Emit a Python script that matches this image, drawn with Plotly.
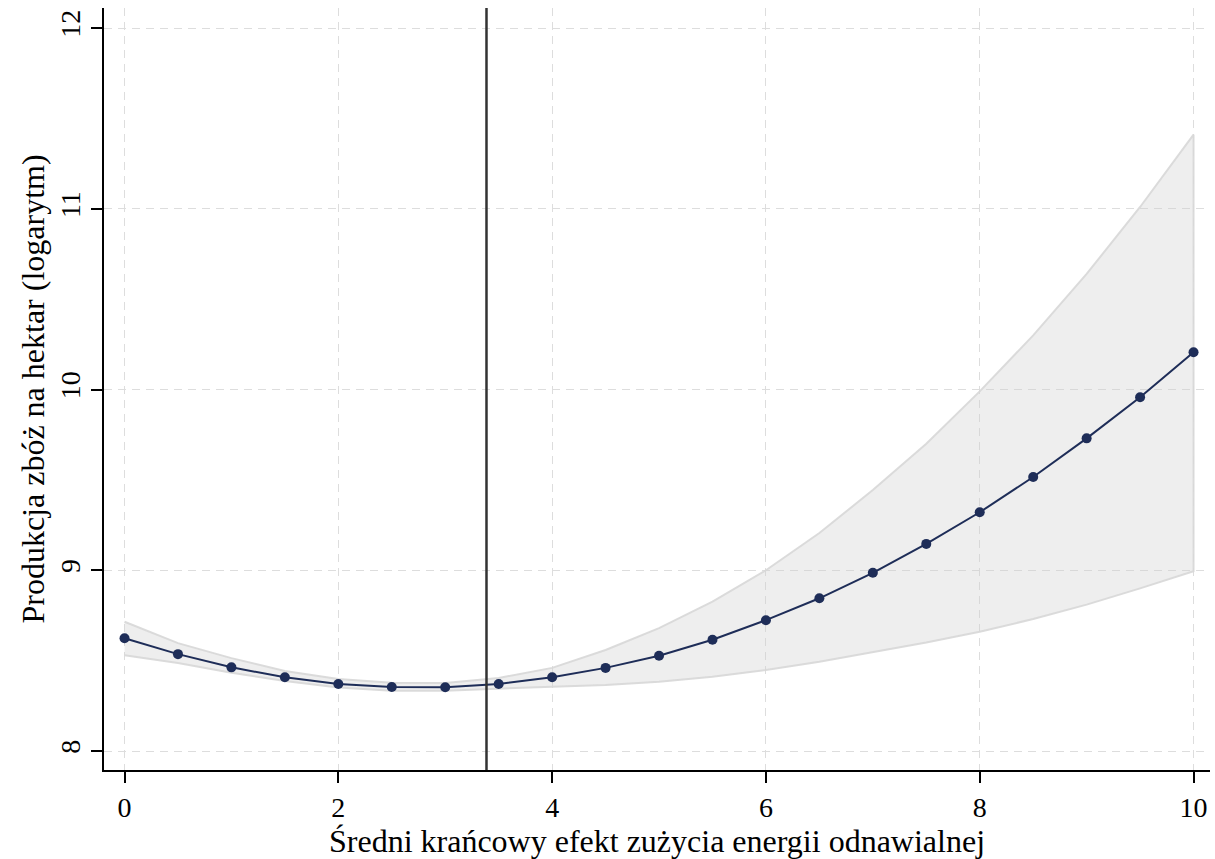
import plotly.graph_objects as go

x_vals = [0, 0.5, 1, 1.5, 2, 2.5, 3, 3.5, 4, 4.5, 5, 5.5, 6, 6.5, 7, 7.5, 8, 8.5, 9, 9.5, 10]
mean_vals = [8.624, 8.536, 8.463, 8.408, 8.371, 8.354, 8.353, 8.371, 8.408, 8.460, 8.527, 8.616,
             8.724, 8.845, 8.986, 9.146, 9.321, 9.516, 9.730, 9.957, 10.206]
upper_vals = [8.715, 8.597, 8.514, 8.443, 8.398, 8.378, 8.376, 8.404, 8.46, 8.559, 8.68, 8.826,
              9.0, 9.206, 9.444, 9.70, 9.99, 10.30, 10.64, 11.01, 11.41]
lower_vals = [8.53, 8.487, 8.433, 8.387, 8.352, 8.334, 8.334, 8.345, 8.356, 8.365, 8.383, 8.411,
              8.448, 8.494, 8.549, 8.60, 8.66, 8.73, 8.81, 8.90, 8.995]
ref_line_x = 3.386

x_ticks = [0, 2, 4, 6, 8, 10]
y_ticks = [8, 9, 10, 11, 12]
x_title = "Średni krańcowy efekt zużycia energii odnawialnej"
y_title = "Produkcja zbóż na hektar (logarytm)"

FONT = "'Liberation Serif', serif"
NAVY = "rgb(30,45,88)"

fig = go.Figure()

fig.add_trace(go.Scatter(
    x=x_vals + x_vals[::-1],
    y=upper_vals + lower_vals[::-1],
    fill="toself",
    fillcolor="rgba(205,205,205,0.35)",
    line=dict(color="rgba(215,215,215,0.9)", width=2),
    mode="lines",
    hoverinfo="skip",
    showlegend=False,
))

fig.add_trace(go.Scatter(
    x=x_vals, y=mean_vals,
    mode="lines+markers",
    line=dict(color=NAVY, width=2),
    marker=dict(color=NAVY, size=10),
    showlegend=False,
))

fig.add_shape(type="line", xref="x", yref="paper", x0=ref_line_x, x1=ref_line_x, y0=0, y1=1,
              line=dict(color="#333333", width=2.5))

fig.update_layout(
    width=1215, height=859,
    margin=dict(l=104, r=5, t=8, b=89),
    paper_bgcolor="white", plot_bgcolor="white",
    font=dict(family=FONT, size=28, color="black"),
    xaxis=dict(
        range=[-0.192, 10.154],
        tickvals=x_ticks, ticktext=[str(t) for t in x_ticks],
        ticks="outside", ticklen=11, tickwidth=1.5, tickcolor="black",
        showline=True, linecolor="black", linewidth=2,
        showgrid=True, gridcolor="#dddddd", gridwidth=1, griddash="8px,6px",
        zeroline=False,
        tickfont=dict(family=FONT, size=28),
        title=dict(text=x_title, font=dict(family=FONT, size=32), standoff=2),
    ),
    yaxis=dict(
        range=[7.895, 12.111],
        tickvals=y_ticks, ticktext=[str(t) for t in y_ticks],
        tickangle=-90,
        ticks="outside", ticklen=11, tickwidth=1.5, tickcolor="black",
        showline=True, linecolor="black", linewidth=2,
        showgrid=True, gridcolor="#dddddd", gridwidth=1, griddash="8px,6px",
        zeroline=False,
        tickfont=dict(family=FONT, size=28),
        title=dict(text=y_title, font=dict(family=FONT, size=32), standoff=1),
    ),
)

fig.write_html("out.html")
